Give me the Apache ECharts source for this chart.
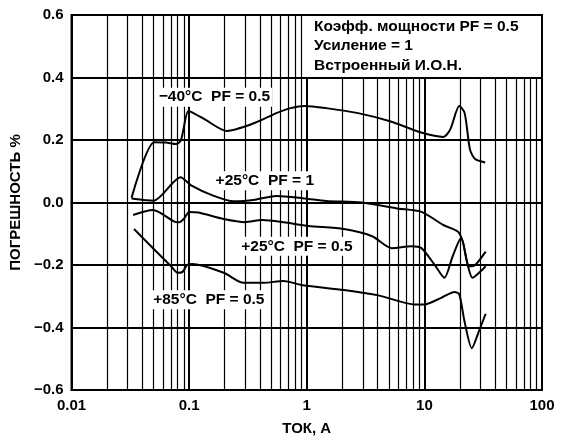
<!DOCTYPE html>
<html>
<head>
<meta charset="utf-8">
<script src="https://cdn.jsdelivr.net/npm/echarts@6/dist/echarts.min.js"></script>
<style>
  html, body { margin: 0; padding: 0; background: #fff; }
  #chart { width: 564px; height: 441px; }
</style>
</head>
<body>
<div id="chart"></div>
<script>
// Ток, А (x) and погрешность, % (y) for each curve
const m40x = [0.0324, 0.0505, 0.0635, 0.0773, 0.085, 0.098, 0.104, 0.137, 0.208, 0.364, 0.552, 0.73, 0.962, 1.46, 2.73, 5.1, 9.55, 14.5, 16.6, 19.8, 22, 24.4, 27, 32.9];
const m40y = [0.015, 0.193, 0.192, 0.187, 0.198, 0.292, 0.29, 0.265, 0.229, 0.255, 0.286, 0.302, 0.309, 0.302, 0.286, 0.26, 0.223, 0.21, 0.234, 0.309, 0.286, 0.17, 0.139, 0.128];

const p25pf1x = [0.0324, 0.0501, 0.0845, 0.104, 0.158, 0.24, 0.364, 0.552, 0.962, 1.46, 2.92, 5.86, 9.44, 14.5, 19.2, 21.2, 24, 27, 33.2];
const p25pf1y = [0.013, 0.006, 0.081, 0.055, 0.023, 0.004, 0.009, 0.021, 0.013, 0.005, 0.0, -0.019, -0.03, -0.072, -0.093, -0.124, -0.204, -0.2, -0.157];

const p25x = [0.0334, 0.0492, 0.0748, 0.0824, 0.0908, 0.1, 0.12, 0.197, 0.299, 0.418, 0.636, 1.03, 2.07, 3.6, 5.28, 7.74, 9.44, 12.2, 14.8, 17.4, 20.5, 23.3, 25.6, 30.1, 33.2];
const p25y = [-0.04, -0.024, -0.061, -0.063, -0.051, -0.03, -0.032, -0.053, -0.063, -0.056, -0.063, -0.075, -0.085, -0.108, -0.146, -0.14, -0.146, -0.199, -0.241, -0.172, -0.114, -0.199, -0.241, -0.22, -0.204];

const p85x = [0.034, 0.0508, 0.0702, 0.0798, 0.088, 0.0966, 0.106, 0.197, 0.29, 0.428, 0.636, 0.925, 2.07, 4.14, 8.28, 10, 13.9, 18, 19.8, 21.9, 25.3, 29.2, 33.2];
const p85y = [-0.085, -0.151, -0.204, -0.225, -0.222, -0.199, -0.197, -0.225, -0.257, -0.257, -0.251, -0.265, -0.28, -0.298, -0.326, -0.326, -0.305, -0.286, -0.294, -0.379, -0.466, -0.41, -0.356];

const seriesNames = ['−40°C  PF = 0.5', '+25°C  PF = 1', '+25°C  PF = 0.5', '+85°C  PF = 0.5'];
// label anchor (x, y) for each curve caption
const labelAt = [[0.164, 0.337], [0.44, 0.07], [0.824, -0.14], [0.147, -0.311]];

const xTickLabels = ['0.01', '0.1', '1', '10', '100'];
const noteLines = ['Коэфф. мощности PF = 0.5', 'Усиление = 1', 'Встроенный И.О.Н.'];

const FONT = '"Liberation Sans", Arial, sans-serif';

function pairs(xs, ys) { return xs.map((x, i) => [x, ys[i]]); }

// minor log gridlines: 2..9 within each decade
const minorLines = [];
for (let e = -2; e <= 1; e++) {
  for (let k = 2; k <= 9; k++) {
    minorLines.push({ xAxis: +(k * Math.pow(10, e)).toPrecision(3) });
  }
}

const curves = [pairs(m40x, m40y), pairs(p25pf1x, p25pf1y), pairs(p25x, p25y), pairs(p85x, p85y)];

const series = [{
  type: 'line', data: [], silent: true, z: 1,
  markLine: {
    silent: true, symbol: 'none', z: 1,
    label: { show: false },
    lineStyle: { color: '#000', width: 1.2, type: 'solid' },
    emphasis: { disabled: true },
    data: minorLines
  }
}];

curves.forEach((d, i) => {
  series.push({
    name: seriesNames[i],
    type: 'line',
    data: d,
    showSymbol: false,
    smooth: 0.25,
    z: 3,
    lineStyle: { color: '#000', width: 2 },
    markPoint: {
      symbol: 'rect', symbolSize: 0, z: 6, silent: true,
      data: [{ coord: labelAt[i] }],
      label: {
        show: true, position: 'inside',
        formatter: seriesNames[i],
        color: '#000', fontFamily: FONT, fontWeight: 'bold', fontSize: 15.5,
        backgroundColor: '#fff', padding: [2, 2, 1, 2]
      }
    }
  });
});

const chart = echarts.init(document.getElementById('chart'), null, { renderer: 'canvas' });
chart.setOption({
  animation: false,
  backgroundColor: '#fff',
  grid: { left: 66, right: 22, top: 15, bottom: 47, show: true, borderColor: '#000', borderWidth: 2, backgroundColor: 'transparent' },
  xAxis: {
    type: 'log', logBase: 10, min: 0.01, max: 100,
    name: 'ТОК, А', nameLocation: 'middle', nameGap: 31,
    nameTextStyle: { color: '#000', fontFamily: FONT, fontWeight: 'bold', fontSize: 15 },
    axisLine: { show: true, lineStyle: { color: '#000', width: 2 } },
    axisTick: { show: false },
    axisLabel: {
      color: '#000', fontFamily: FONT, fontWeight: 'bold', fontSize: 15, margin: 8,
      formatter: (v, i) => xTickLabels[i]
    },
    splitLine: { show: true, lineStyle: { color: '#000', width: 2 } }
  },
  yAxis: {
    type: 'value', min: -0.6, max: 0.6, interval: 0.2,
    name: 'ПОГРЕШНОСТЬ %', nameLocation: 'middle', nameGap: 43,
    nameTextStyle: { color: '#000', fontFamily: FONT, fontWeight: 'bold', fontSize: 15 },
    axisLine: { show: true, lineStyle: { color: '#000', width: 2 } },
    axisTick: { show: false },
    axisLabel: {
      color: '#000', fontFamily: FONT, fontWeight: 'bold', fontSize: 15, margin: 8,
      formatter: v => (v < 0 ? '−' : '') + Math.abs(v).toFixed(1)
    },
    splitLine: { show: true, lineStyle: { color: '#000', width: 2 } }
  },
  graphic: [
    { type: 'rect', left: 306, top: 16, z: 10, shape: { width: 233, height: 61 }, style: { fill: '#fff' } },
    { type: 'text', left: 314, top: 19, z: 11, style: { text: noteLines[0], fill: '#000', font: 'bold 15.5px ' + FONT } },
    { type: 'text', left: 314, top: 38, z: 11, style: { text: noteLines[1], fill: '#000', font: 'bold 15.5px ' + FONT } },
    { type: 'text', left: 314, top: 58, z: 11, style: { text: noteLines[2], fill: '#000', font: 'bold 15.5px ' + FONT } }
  ],
  series: series
});
</script>
</body>
</html>
